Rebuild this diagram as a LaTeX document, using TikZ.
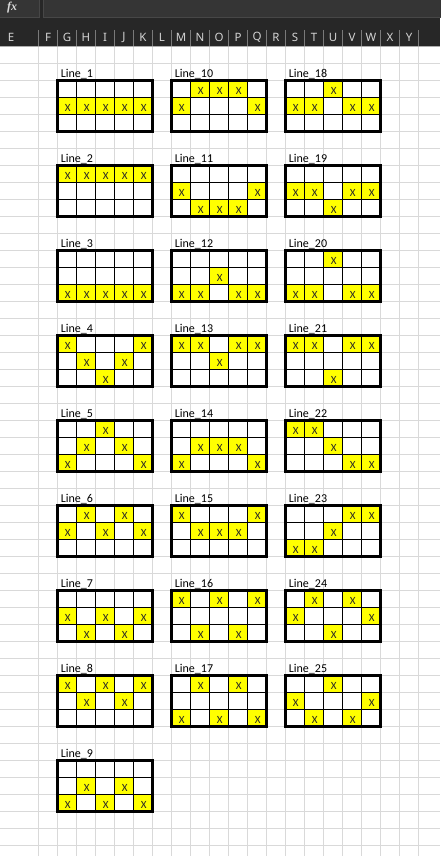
\documentclass[tikz,border=0pt]{standalone}
\usepackage{fontspec}
\setmainfont{Carlito}
\newfontfamily\hdrfont{Noto Sans}
\newfontfamily\fxfont{Liberation Serif}
\definecolor{gridgray}{HTML}{D9D9D9}
\definecolor{hdrbg}{HTML}{272727}
\definecolor{barbox}{HTML}{353535}
\definecolor{barline}{HTML}{474747}
\definecolor{hdrtext}{HTML}{D4D4D4}
\definecolor{hdrsep}{HTML}{7A7A7A}
\definecolor{cellyellow}{HTML}{FFFF00}
\tikzset{
  gridline/.style={draw=gridgray, line width=1pt},
  hdrletter/.style={text=hdrtext, font=\hdrfont\fontsize{11.5}{13}\selectfont, inner sep=0pt, anchor=center},
  cellfill/.style={fill=cellyellow},
  innerline/.style={draw=black, line width=1pt},
  outerline/.style={draw=black, line width=3pt},
  xmark/.style={font=\fontsize{11}{13}\selectfont, text=black!85, inner sep=0pt, anchor=center},
  blocklabel/.style={font=\fontsize{12}{14}\selectfont, text=black, inner sep=0pt, anchor=base west}
}
\newcommand\lineblock[4]{%
  \foreach \c/\r in {#4}{%
    \fill[cellfill] ({#1+19*(\c-1)},{#2+17*(\r-1)}) rectangle ++(19,17);
    \node[xmark] (x#3-\c-\r) at ({#1+19*(\c-1)+10.3},{#2+17*(\r-1)+10}) {X};
  }%
  \foreach \k in {1,...,4}{\draw[innerline] ({#1+19*\k},#2) -- ++(0,51);}%
  \foreach \k in {1,2}{\draw[innerline] (#1,{#2+17*\k}) -- ++(95,0);}%
  \draw[outerline] (#1,#2) rectangle ++(95,51);
  \node[blocklabel] (lbl#3) at ({#1+3.2},{#2-3.3}) {Line\_#3};
}
\begin{document}
\begin{tikzpicture}[x=1pt,y=-1pt]
\useasboundingbox (0,0) rectangle (440,856);
\fill[white] (0,0) rectangle (440,856);
% sheet grid
\foreach \k in {0,...,20}{\draw[gridline] ({38.5+19*\k},46.5) -- ({38.5+19*\k},856);}
\foreach \n in {0,...,46}{\draw[gridline] (0,{63.5+17*\n}) -- (440,{63.5+17*\n});}
% header
\fill[hdrbg] (0,0) rectangle (440,46);
\filldraw[fill=barbox, draw=barline, line width=0.8pt] (-2,-2) rectangle (39.3,17.3);
\filldraw[fill=barbox, draw=barline, line width=0.8pt] (43.3,-2) rectangle (442,17.3);
\node[text=white!85!black, font=\fxfont\itshape\bfseries\fontsize{12}{14}\selectfont, anchor=base west, inner sep=0pt] (fx) at (7,11) {fx};
\foreach \k in {0,...,20}{\draw[hdrsep, line width=0.8pt] ({38.5+19*\k},30) -- ({38.5+19*\k},46);}
\draw[draw=gridgray!80!black, line width=1pt] (0,46.5) -- (440,46.5);
\node[hdrletter] (hE) at (11,37.5) {E};
\foreach \L [count=\i from 0] in {F,G,H,I,J,K,L,M,N,O,P,Q,R,S,T,U,V,W,X,Y}{
  \node[hdrletter] (h\L) at ({38.5+19*\i+9.5},37.5) {\L};
}
% column 1
\lineblock{57.5}{80.5}{1}{1/2,2/2,3/2,4/2,5/2}
\lineblock{57.5}{165.5}{2}{1/1,2/1,3/1,4/1,5/1}
\lineblock{57.5}{250.5}{3}{1/3,2/3,3/3,4/3,5/3}
\lineblock{57.5}{335.5}{4}{1/1,5/1,2/2,4/2,3/3}
\lineblock{57.5}{420.5}{5}{3/1,2/2,4/2,1/3,5/3}
\lineblock{57.5}{505.5}{6}{2/1,4/1,1/2,3/2,5/2}
\lineblock{57.5}{590.5}{7}{1/2,3/2,5/2,2/3,4/3}
\lineblock{57.5}{675.5}{8}{1/1,3/1,5/1,2/2,4/2}
\lineblock{57.5}{760.5}{9}{2/2,4/2,1/3,3/3,5/3}
% column 2
\lineblock{171.5}{80.5}{10}{2/1,3/1,4/1,1/2,5/2}
\lineblock{171.5}{165.5}{11}{1/2,5/2,2/3,3/3,4/3}
\lineblock{171.5}{250.5}{12}{3/2,1/3,2/3,4/3,5/3}
\lineblock{171.5}{335.5}{13}{1/1,2/1,4/1,5/1,3/2}
\lineblock{171.5}{420.5}{14}{2/2,3/2,4/2,1/3,5/3}
\lineblock{171.5}{505.5}{15}{1/1,5/1,2/2,3/2,4/2}
\lineblock{171.5}{590.5}{16}{1/1,3/1,5/1,2/3,4/3}
\lineblock{171.5}{675.5}{17}{2/1,4/1,1/3,3/3,5/3}
% column 3
\lineblock{285.5}{80.5}{18}{3/1,1/2,2/2,4/2,5/2}
\lineblock{285.5}{165.5}{19}{1/2,2/2,4/2,5/2,3/3}
\lineblock{285.5}{250.5}{20}{3/1,1/3,2/3,4/3,5/3}
\lineblock{285.5}{335.5}{21}{1/1,2/1,4/1,5/1,3/3}
\lineblock{285.5}{420.5}{22}{1/1,2/1,3/2,4/3,5/3}
\lineblock{285.5}{505.5}{23}{4/1,5/1,3/2,1/3,2/3}
\lineblock{285.5}{590.5}{24}{2/1,4/1,1/2,5/2,3/3}
\lineblock{285.5}{675.5}{25}{3/1,1/2,5/2,2/3,4/3}
\end{tikzpicture}
\end{document}
